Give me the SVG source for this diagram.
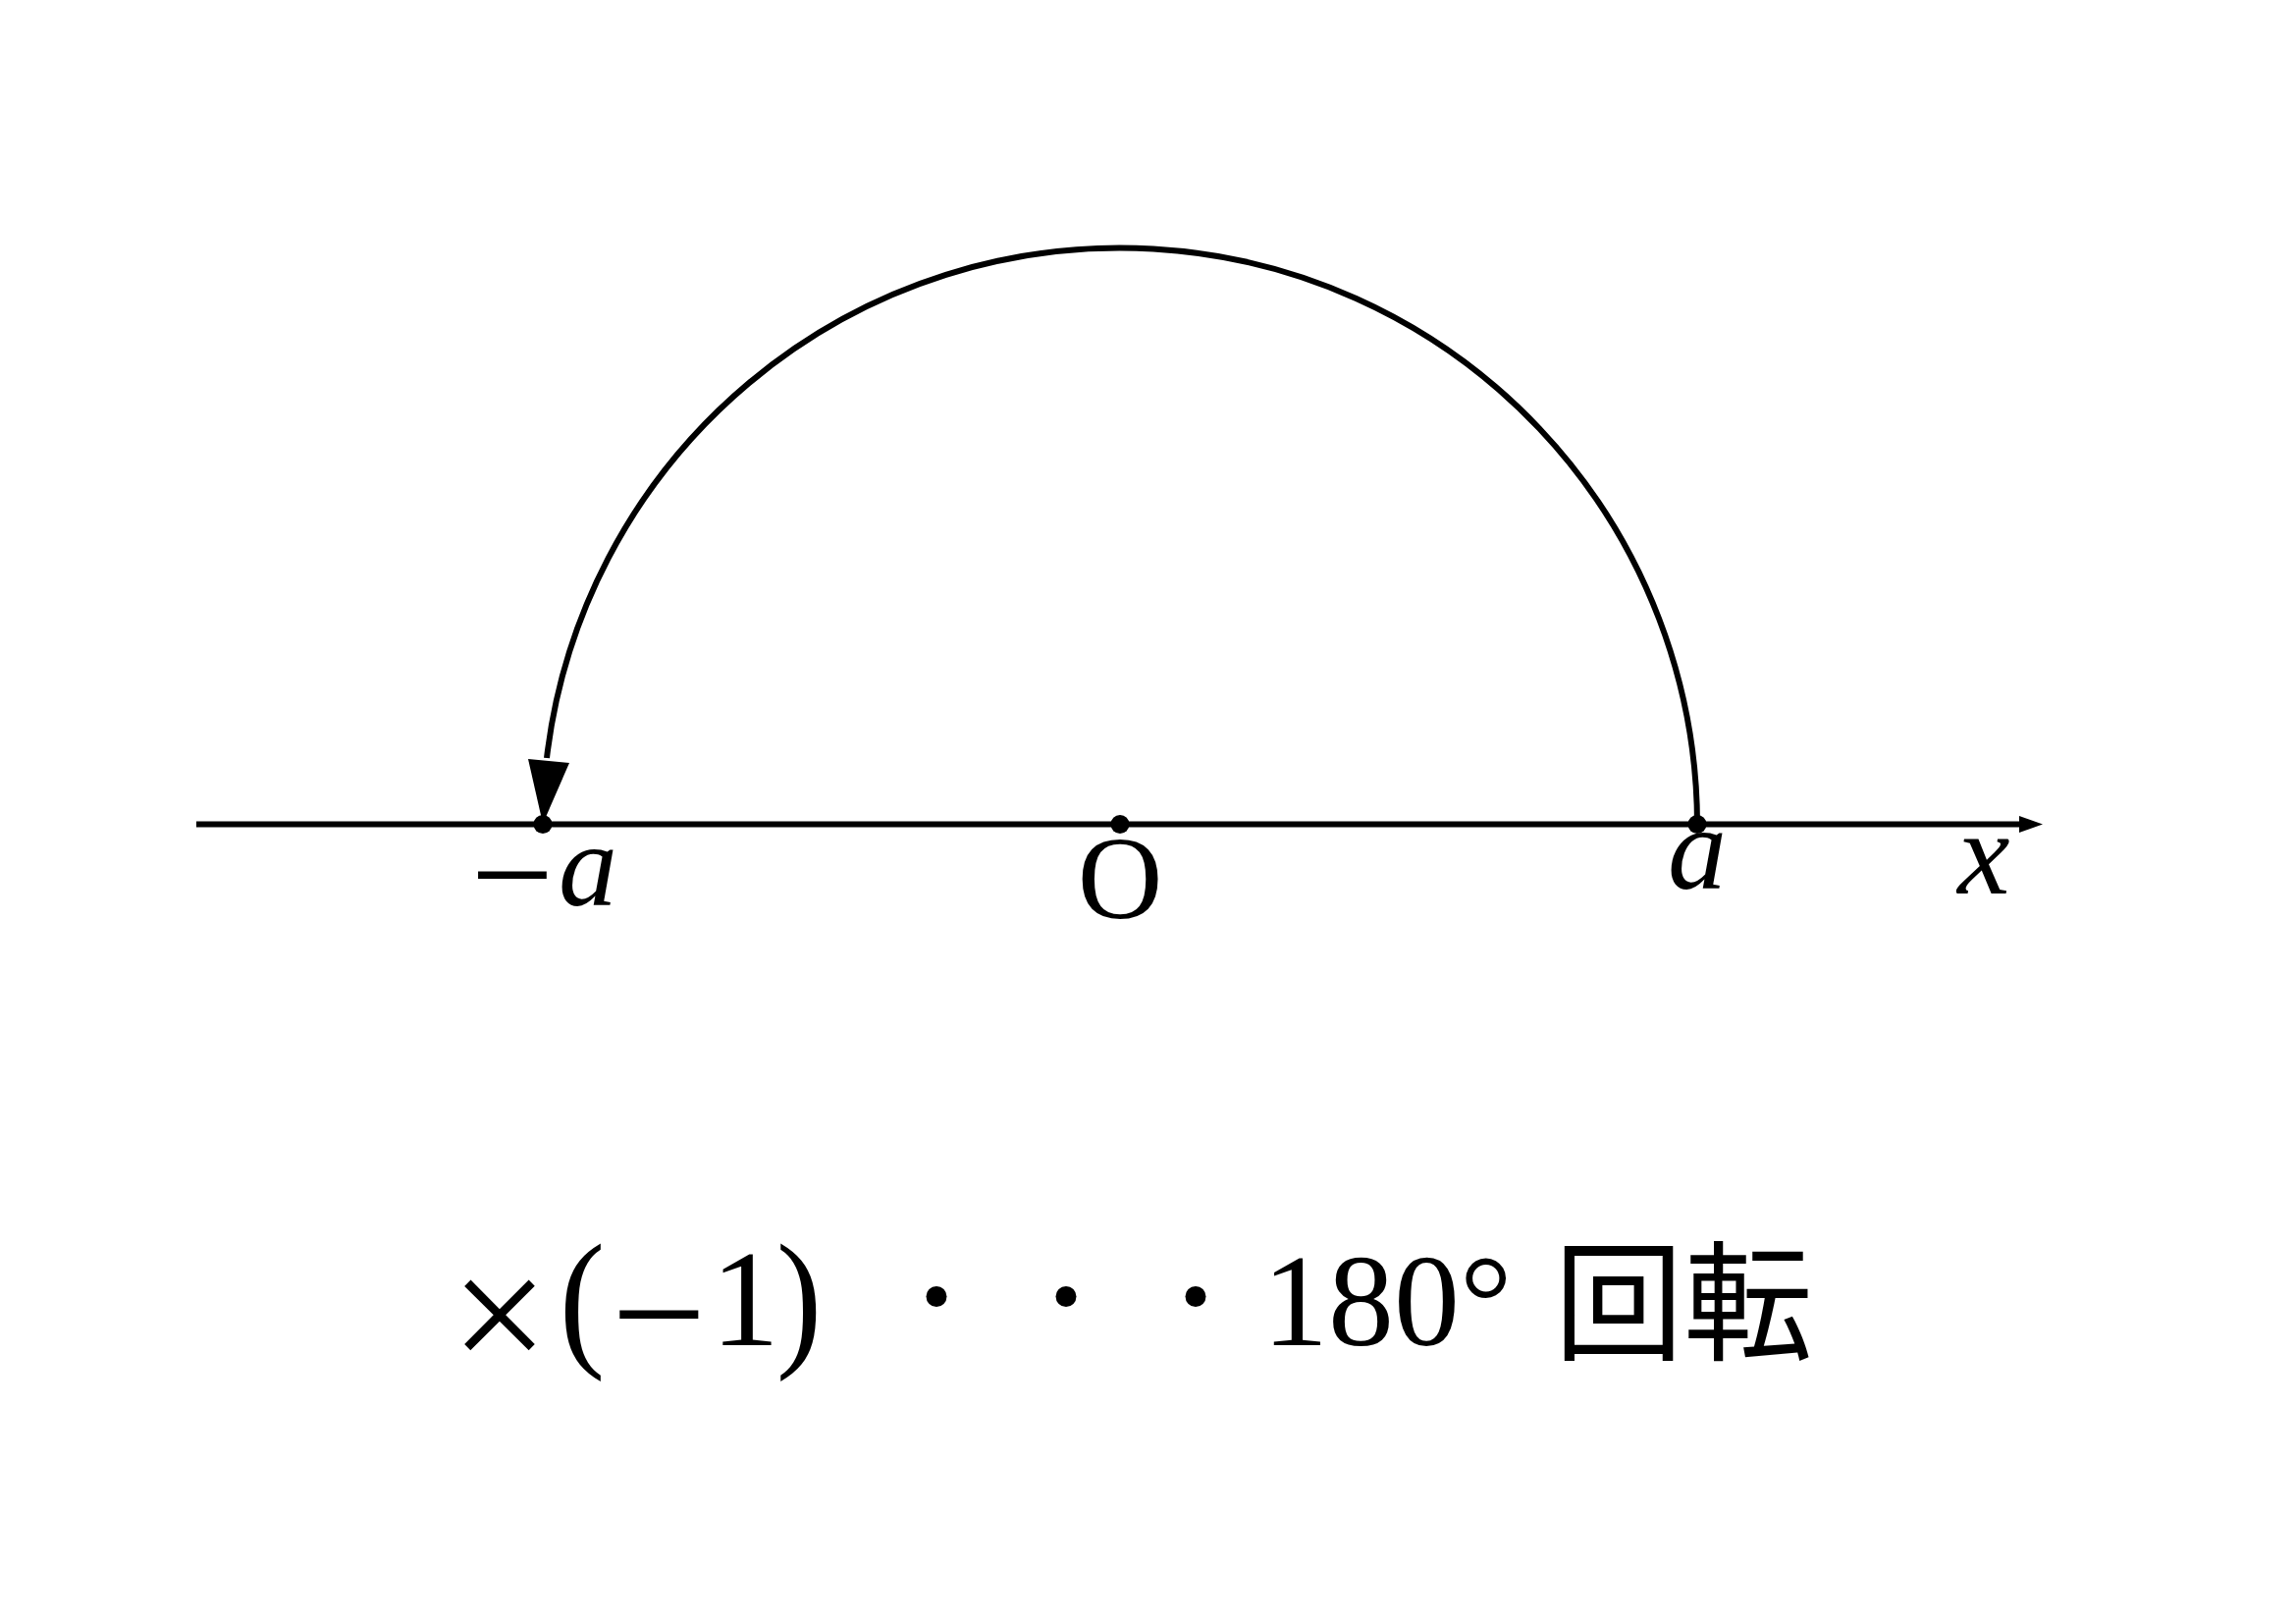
<svg xmlns="http://www.w3.org/2000/svg" width="2339" height="1654" viewBox="0 0 2339 1654">
<style>
.ln{fill:none;stroke:#000;stroke-width:6;}
.blk{fill:#000;stroke:none;}
.it{font-family:"Liberation Serif","DejaVu Serif",serif;font-style:italic;font-size:120px;fill:#000;text-anchor:middle;}
.rm{font-family:"Liberation Serif","DejaVu Serif",serif;font-size:120px;fill:#000;text-anchor:middle;}
.big{font-family:"Liberation Serif","DejaVu Serif",serif;font-size:140px;fill:#000;text-anchor:middle;}
.jp{font-family:"Noto Sans CJK JP",sans-serif;font-size:132px;fill:#000;}
</style>
<rect width="2339" height="1654" fill="#fff"/>
<g id="connectors">
<line class="ln" x1="200" y1="839.5" x2="2062" y2="839.5"/>
<polygon class="blk" points="2081,839.5 2057,831 2057,848"/>
<path class="ln" d="M1729 839.5 A588 588 0 0 0 557 772"/>
<polygon class="blk" points="553,839 538,773 580,777"/>
</g>
<g id="node-neg-a">
<circle class="blk" cx="553" cy="839.5" r="9.5"/>
<text class="rm" x="522" y="941" style="font-size:150px">−</text>
<text class="it" x="599" y="922">a</text>
</g>
<g id="node-O">
<circle class="blk" cx="1141" cy="839.5" r="9.5"/>
<text class="rm" x="1141" y="935">O</text>
</g>
<g id="node-a">
<circle class="blk" cx="1729" cy="839.5" r="9.5"/>
<text class="it" x="1729" y="905">a</text>
</g>
<g id="label-x">
<text class="it" x="2021" y="910">x</text>
</g>
<g id="caption">
<text class="big" x="509" y="1398" style="font-size:176px">×</text>
<text class="big" x="593" y="1374" transform="translate(0,-137) scale(1,1.1)">(</text>
<text class="big" x="671" y="1396" style="font-size:172px">−</text>
<text class="big" x="759" y="1370">1</text>
<text class="big" x="814" y="1374" transform="translate(0,-137) scale(1,1.1)">)</text>
<circle class="blk" cx="954" cy="1320.5" r="10.5"/>
<circle class="blk" cx="1086" cy="1320.5" r="10.5"/>
<circle class="blk" cx="1218" cy="1320.5" r="10.5"/>
<text class="big" x="1286" y="1370" style="font-size:134px;text-anchor:start">180°</text>
<text class="jp" x="1583" y="1375">回転</text>
</g>
</svg>
